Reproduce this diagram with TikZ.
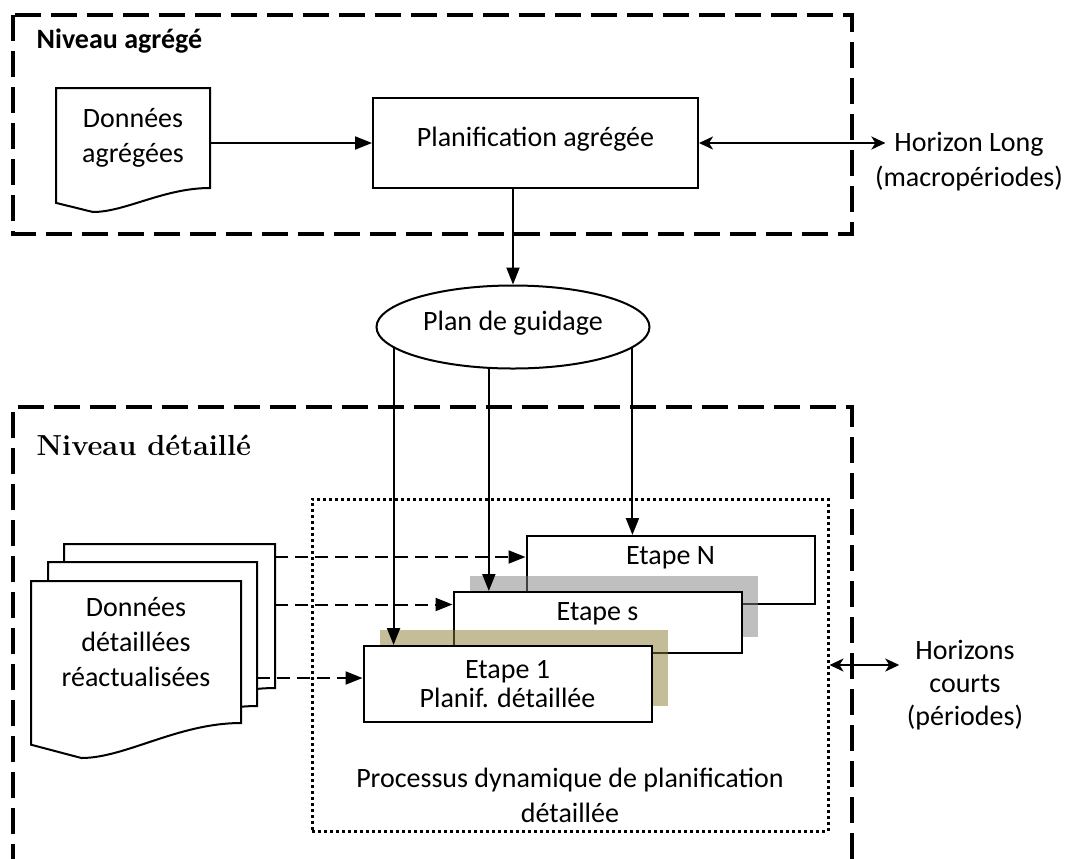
\documentclass[tikz,border=0pt]{standalone}
\usepackage{fontspec}
\setsansfont{Carlito}
\usetikzlibrary{arrows.meta,shapes.geometric,shadows,calc}
\definecolor{shadowtan}{RGB}{137,123,47}
\newcommand{\docoutline}[2]{%
  \draw[fill=white] let \p1=(#1.north west), \p2=(#1.south east) in
    (\p1) -- (\x2,\y1) -- (\p2)
    .. controls ({\x2-0.3*(\x2-\x1)},\y2) and ({\x1+0.45*(\x2-\x1)},{\y2-#2}) .. ({\x1+0.24*(\x2-\x1)},{\y2-#2})
    -- (\x1,{\y2-0.62*#2}) -- cycle;}

\begin{document}
\begin{tikzpicture}[x=0.5pt,y=-0.5pt,line width=1pt,
  font=\sffamily\fontsize{14}{17.5}\selectfont,
  zone/.style={line width=1.6pt,dash pattern=on 13pt off 5pt},
  flow/.style={-{Triangle[length=8.5pt,width=6.5pt]}},
  dashflow/.style={flow,dash pattern=on 6.5pt off 3.5pt},
  span/.style={{Stealth[length=7pt,width=6.5pt,inset=2pt]}-{Stealth[length=7pt,width=6.5pt,inset=2pt]}},
  box/.style={draw,fill=white,minimum width=144pt,inner sep=3pt},
  doc/.style={minimum width=#1,minimum height=70pt,inner sep=0pt}]
\useasboundingbox (0,0) rectangle (1071,858);

% niveau agrege
\draw[zone] (13,15) rectangle (852,234);
\node[anchor=west,font=\sffamily\bfseries\fontsize{14}{17}\selectfont] (titreagg) at (29,41) {Niveau agrégé};
\node[doc=76pt,minimum height=49pt] (docagg) at (133,138) {};
\docoutline{docagg}{12pt}
\node[align=center] (docaggtxt) at (docagg) {Données\\agrégées};
\node[box,minimum width=162.5pt,minimum height=45pt,text depth=6pt] (planagg) at (535.5,143) {Planification agrégée};
\node[align=center] (horlong) at (969,162) {Horizon Long\\(macropériodes)};
\draw[flow] (docagg.east |- planagg) -- (planagg);
\draw[span] (planagg.east) -- ([xshift=9pt]planagg.east -| horlong.west);

\node[draw,ellipse,minimum width=136.5pt,minimum height=41.5pt,inner sep=0pt,text depth=6pt] (guid) at (513,327) {Plan de guidage};
\draw[flow] (planagg.south -| guid.north) -- (guid.north);

% niveau detaille
\draw[zone] (13,870) -- (13,407) -- (852,407) -- (852,870);
\node[anchor=west,font=\rmfamily\bfseries\fontsize{14.5}{17}\selectfont] (titredet) at (29,445) {Niveau détaillé};
\node[draw,line width=1.5pt,dash pattern=on 1.5pt off 1.5pt,minimum width=258pt,minimum height=166pt,
  label={[align=center,anchor=south,yshift=1pt]south:Processus dynamique de planification\\détaillée}] (process) at (570,665) {};

\node[box,minimum height=34pt,label={[anchor=north,yshift=-2pt]north:Etape N}] (etapeN) at (670.5,570) {};
\node[box,minimum height=30.5pt,drop shadow={shadow xshift=8pt,shadow yshift=8pt,fill=black!50,opacity=.5},
  label={[anchor=north,yshift=-2pt]north:Etape s}] (etapes) at (597.5,622.5) {};
\node[box,minimum height=38pt,align=center,font=\sffamily\fontsize{14}{14.5}\selectfont,
  drop shadow={shadow xshift=8pt,shadow yshift=8pt,fill=shadowtan,opacity=.5}] (etape1) at (507.5,684) {Etape 1\\Planif. détaillée};

\node[doc=104.5pt,minimum height=71pt] (docback) at (169.5,616) {};
\docoutline{docback}{17.5pt}
\node[doc=103.5pt,minimum height=71pt] (docmid) at (152.5,634) {};
\docoutline{docmid}{17.5pt}
\node[doc=104pt] (docdet) at (136,652) {};
\docoutline{docdet}{17.5pt}
\node[align=center] (docdettxt) at ([yshift=5pt]docdet) {Données\\détaillées\\réactualisées};

\node[align=center,font=\sffamily\fontsize{14}{16.5}\selectfont] (horcourt) at (965,685) {Horizons\\courts\\(périodes)};

\draw[flow] (guid.350) -- (guid.350 |- etapeN.north);
\draw[flow] (guid.240) -- (guid.240 |- etapes.north);
\draw[flow] (guid.190) -- (guid.190 |- etape1.north);
\draw[dashflow] ([yshift=6.5pt]etapeN.west -| docback.east) -- ([yshift=6.5pt]etapeN.west);
\draw[dashflow] ([yshift=9pt]etapes.west -| docback.east) -- ([yshift=9pt]etapes.west);
\draw[dashflow] ([yshift=3pt]etape1.west -| docmid.east) -- ([yshift=3pt]etape1.west);
\draw[span] (process.east) -- (process.east -| horcourt.west);
\end{tikzpicture}
\end{document}
